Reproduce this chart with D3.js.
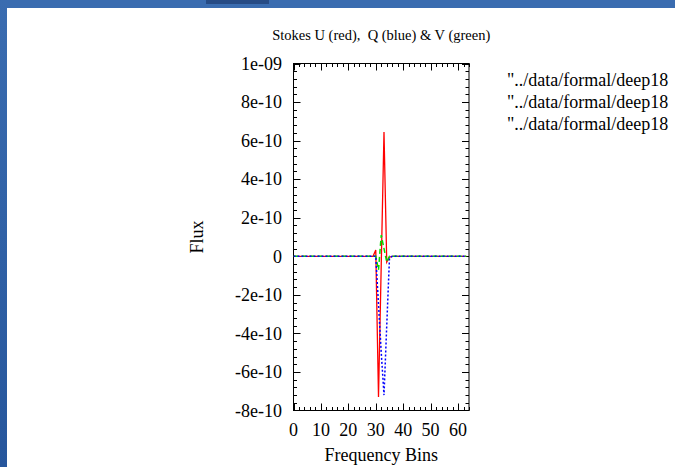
<!DOCTYPE html>
<html>
<head>
<meta charset="utf-8">
<script src="https://cdn.jsdelivr.net/npm/d3@7/dist/d3.min.js"></script>
<style>
  html, body { margin: 0; padding: 0; background: #fff; overflow: hidden; }
  svg { display: block; }
  text { font-family: "Liberation Serif", "DejaVu Serif", serif; fill: #000; }
</style>
</head>
<body>
<script>
// Frequency bins and Stokes parameter flux per bin
const bins = [0,1,2,3,4,5,6,7,8,9,10,11,12,13,14,15,16,17,18,19,20,21,22,23,24,25,26,27,28,29,30,31,
              32,33,34,35,36,37,38,39,40,41,42,43,44,45,46,47,48,49,50,51,52,53,54,55,56,57,58,59,60,61,62,63];
const stokesU = [0,0,0,0,0,0,0,0,0,0,0,0,0,0,0,0,0,0,0,0,0,0,0,0,0,0,0,0,0,0,0.33e-10,-7.3e-10,
                 -0.4e-10,6.45e-10,-0.3e-10,-0.05e-10,0,0,0,0,0,0,0,0,0,0,0,0,0,0,0,0,0,0,0,0,0,0,0,0,0,0,0,0];
const stokesQ = [0,0,0,0,0,0,0,0,0,0,0,0,0,0,0,0,0,0,0,0,0,0,0,0,0,0,0,0,0,0,0,-2.5e-10,
                 -5.0e-10,-7.2e-10,-3.6e-10,-0.1e-10,0,0,0,0,0,0,0,0,0,0,0,0,0,0,0,0,0,0,0,0,0,0,0,0,0,0,0,0];
const stokesV = [0,0,0,0,0,0,0,0,0,0,0,0,0,0,0,0,0,0,0,0,0,0,0,0,0,0,0,0,0,0,0,-0.7e-10,
                 1.1e-10,0.4e-10,-0.3e-10,0,0,0,0,0,0,0,0,0,0,0,0,0,0,0,0,0,0,0,0,0,0,0,0,0,0,0,0,0];

const xTicks = [0, 10, 20, 30, 40, 50, 60];
const yTicks = [-8e-10, -6e-10, -4e-10, -2e-10, 0, 2e-10, 4e-10, 6e-10, 8e-10, 1e-9];
const yTickLabels = ["-8e-10", "-6e-10", "-4e-10", "-2e-10", "0", "2e-10", "4e-10", "6e-10", "8e-10", "1e-09"];
const legendLabels = ['"../data/formal/deep18', '"../data/formal/deep18', '"../data/formal/deep18'];

const W = 675, H = 467;
const svg = d3.select("body").append("svg").attr("width", W).attr("height", H);

// window frame
const defs = svg.append("defs");
const grad = defs.append("linearGradient").attr("id", "frameGrad")
  .attr("x1", 0).attr("y1", 0).attr("x2", 0).attr("y2", 1);
grad.append("stop").attr("offset", "0%").attr("stop-color", "#3a6cb0");
grad.append("stop").attr("offset", "100%").attr("stop-color", "#26569c");
svg.append("rect").attr("x", 0).attr("y", 0).attr("width", W).attr("height", 8).attr("fill", "#3a6cb0");
svg.append("rect").attr("x", 0).attr("y", 0).attr("width", 7).attr("height", H).attr("fill", "url(#frameGrad)");
svg.append("rect").attr("x", 206).attr("y", 0).attr("width", 63).attr("height", 4).attr("fill", "#264b85");

const plot = { left: 293.5, right: 469, top: 63.5, bottom: 410.5 };

const x = d3.scaleLinear().domain([0, 64]).range([plot.left, plot.right]);
const y = d3.scaleLinear().domain([-8e-10, 1e-9]).range([plot.bottom, plot.top]);

// title
svg.append("text")
  .attr("x", (plot.left + plot.right) / 2).attr("y", 40)
  .attr("text-anchor", "middle")
  .style("font-size", "14.5px").style("white-space", "pre")
  .text("Stokes U (red),  Q (blue) & V (green)");

// ticks (inward, mirrored on all sides)
const g = svg.append("g");
const major = 7, minor = 3.5;
const xMinor = d3.range(0, 65, 2);
const yMinor = d3.range(-20, 26, 1).map(i => i * 4e-11).filter(v => v >= -8e-10 - 1e-15 && v <= 1e-9 + 1e-15);

const tickPath = [];
xMinor.forEach(v => {
  const isMajor = Math.abs(v % 10) < 1e-9;
  const len = isMajor ? major : minor;
  const px = Math.round(x(v)) + 0.5;
  tickPath.push(`M${px},${plot.bottom}V${plot.bottom - len}`);
  tickPath.push(`M${px},${plot.top}V${plot.top + len}`);
});
yMinor.forEach(v => {
  const isMajor = yTicks.some(t => Math.abs(t - v) < 1e-15);
  const len = isMajor ? major : minor;
  const py = Math.round(y(v)) + 0.5;
  tickPath.push(`M${plot.left},${py}H${plot.left + len}`);
  tickPath.push(`M${plot.right},${py}H${plot.right - len}`);
});
g.append("path").attr("d", tickPath.join("")).attr("stroke", "#000").attr("stroke-width", 1).attr("fill", "none");

// frame
g.append("rect")
  .attr("x", plot.left).attr("y", plot.top)
  .attr("width", plot.right - plot.left).attr("height", plot.bottom - plot.top)
  .attr("fill", "none").attr("stroke", "#000").attr("stroke-width", 1);

// tick labels
svg.append("g").selectAll("text").data(xTicks).join("text")
  .attr("x", d => x(d)).attr("y", 436)
  .attr("text-anchor", "middle").style("font-size", "18px")
  .text(d => d);
svg.append("g").selectAll("text").data(yTicks).join("text")
  .attr("x", 282).attr("y", d => y(d)).attr("dy", "0.35em")
  .attr("text-anchor", "end").style("font-size", "18px")
  .text((d, i) => yTickLabels[i]);

// axis titles
svg.append("text")
  .attr("x", (plot.left + plot.right) / 2).attr("y", 461)
  .attr("text-anchor", "middle").style("font-size", "18px")
  .text("Frequency Bins");
svg.append("text")
  .attr("transform", `translate(203,${(plot.top + plot.bottom) / 2}) rotate(-90)`)
  .attr("text-anchor", "middle").style("font-size", "18px")
  .text("Flux");

// series
const series = [
  { values: stokesU, color: "#ff0000", dash: null, width: 1.3 },
  { values: stokesV, color: "#00dd00", dash: "5,3", width: 1.5 },
  { values: stokesQ, color: "#0000ff", dash: "2,2", width: 1.5 }
];
const line = d3.line().x((d, i) => x(bins[i])).y(d => y(d));
const clip = defs.append("clipPath").attr("id", "plotClip");
clip.append("rect").attr("x", plot.left).attr("y", plot.top)
  .attr("width", plot.right - plot.left).attr("height", plot.bottom - plot.top);
const lines = svg.append("g").attr("clip-path", "url(#plotClip)");
series.forEach(s => {
  lines.append("path")
    .attr("d", line(s.values))
    .attr("fill", "none")
    .attr("stroke", s.color)
    .attr("stroke-width", s.width)
    .attr("stroke-dasharray", s.dash)
    .attr("stroke-linejoin", "miter");
});

// key entries
svg.append("g").selectAll("text").data(legendLabels).join("text")
  .attr("x", 507).attr("y", (d, i) => 86 + i * 22)
  .style("font-size", "18px")
  .text(d => d);
</script>
</body>
</html>
